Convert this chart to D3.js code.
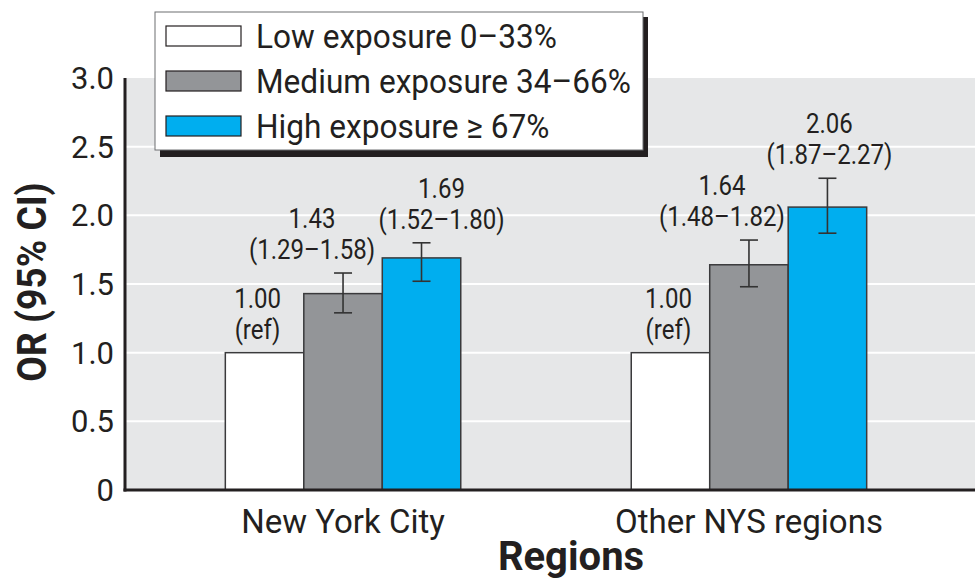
<!DOCTYPE html>
<html>
<head>
<meta charset="utf-8">
<script src="https://cdn.jsdelivr.net/npm/d3@7"></script>
<style>
  body { margin: 0; background: #fff; }
  svg { display: block; font-family: "Roboto", "Liberation Sans", sans-serif; }
</style>
</head>
<body>
<div id="chart"></div>
<script>
// data
const regions = ["New York City", "Other NYS regions"];
const exposures = ["Low exposure 0\u201333%", "Medium exposure 34\u201366%", "High exposure \u2265 67%"];
const orValues = [[1.00, 1.43, 1.69], [1.00, 1.64, 2.06]];
const ciLow  = [[null, 1.29, 1.52], [null, 1.48, 1.87]];
const ciHigh = [[null, 1.58, 1.80], [null, 1.82, 2.27]];
const labelTop = [["1.00", "1.43", "1.69"], ["1.00", "1.64", "2.06"]];
const labelBottom = [["(ref)", "(1.29\u20131.58)", "(1.52\u20131.80)"], ["(ref)", "(1.48\u20131.82)", "(1.87\u20132.27)"]];
const yTicks = [0, 0.5, 1.0, 1.5, 2.0, 2.5, 3.0];
const colors = ["#ffffff", "#939598", "#00aeef"];

// layout: horizontal nudges of the value labels, as in the original
const labelDx = [[-7, -31, 20], [-2, -27, 2]];

const width = 975, height = 584;
const margin = {left: 125, right: 0, top: 78, bottom: 94};
const textColor = "#231f20";

const svg = d3.select("#chart").append("svg")
  .attr("width", width).attr("height", height);

const y = d3.scaleLinear().domain([0, 3]).range([height - margin.bottom, margin.top]);
const x0 = d3.scaleBand().domain(regions).range([121, 971]).paddingInner(0.42).paddingOuter(0.257);
const x1 = d3.scaleBand().domain(d3.range(exposures.length)).range([0, x0.bandwidth()]);

// plot background
svg.append("rect")
  .attr("x", margin.left).attr("y", y(3))
  .attr("width", width - margin.left).attr("height", y(0) - y(3))
  .attr("fill", "#e6e7e8");

// gridlines
svg.append("g").selectAll("line")
  .data(yTicks.filter(t => t > 0 && t < 3))
  .join("line")
    .attr("x1", margin.left).attr("x2", width)
    .attr("y1", d => y(d)).attr("y2", d => y(d))
    .attr("stroke", "#fff").attr("stroke-width", 2);

// bars
const groups = svg.append("g").selectAll("g")
  .data(regions)
  .join("g")
    .attr("transform", d => `translate(${x0(d)},0)`);

groups.each(function(region, ri) {
  const g = d3.select(this);
  const rows = exposures.map((e, i) => ({
    i, v: orValues[ri][i], lo: ciLow[ri][i], hi: ciHigh[ri][i],
    t1: labelTop[ri][i], t2: labelBottom[ri][i], dx: labelDx[ri][i]
  }));

  g.selectAll("rect")
    .data(rows)
    .join("rect")
      .attr("x", d => x1(d.i))
      .attr("y", d => y(d.v))
      .attr("width", x1.bandwidth())
      .attr("height", d => y(0) - y(d.v))
      .attr("fill", d => colors[d.i])
      .attr("stroke", "#3a3a3c")
      .attr("stroke-width", 1.5);

  // error bars
  const eb = g.selectAll("g.eb")
    .data(rows.filter(d => d.lo != null))
    .join("g").attr("class", "eb")
      .attr("transform", d => `translate(${x1(d.i) + x1.bandwidth() / 2},0)`)
      .attr("stroke", "#333").attr("stroke-width", 1.6);
  eb.append("line").attr("y1", d => y(d.lo)).attr("y2", d => y(d.hi));
  eb.append("line").attr("x1", -9).attr("x2", 9).attr("y1", d => y(d.lo)).attr("y2", d => y(d.lo));
  eb.append("line").attr("x1", -9).attr("x2", 9).attr("y1", d => y(d.hi)).attr("y2", d => y(d.hi));

  // value labels (narrowed to mimic the condensed face)
  const lab = g.selectAll("text.val")
    .data(rows)
    .join("text").attr("class", "val")
      .attr("text-anchor", "middle")
      .attr("fill", textColor)
      .attr("font-size", 27)
      .attr("transform", d => `translate(${x1(d.i) + x1.bandwidth() / 2 + d.dx},${y(d.hi != null ? d.hi : d.v) - 14}) scale(0.89,1)`);
  lab.append("tspan").attr("x", 0).attr("y", -31).text(d => d.t1);
  lab.append("tspan").attr("x", 0).attr("y", 0).text(d => d.t2);
});

// axes lines
svg.append("line")
  .attr("x1", margin.left).attr("x2", margin.left)
  .attr("y1", y(3)).attr("y2", y(0) + 1.5)
  .attr("stroke", "#231f20").attr("stroke-width", 3);
svg.append("line")
  .attr("x1", margin.left - 1.5).attr("x2", width)
  .attr("y1", y(0)).attr("y2", y(0))
  .attr("stroke", "#231f20").attr("stroke-width", 3);

// y tick labels
svg.append("g").selectAll("text")
  .data(yTicks)
  .join("text")
    .attr("x", 114).attr("y", d => y(d))
    .attr("dy", "0.36em")
    .attr("text-anchor", "end")
    .attr("fill", textColor)
    .attr("font-size", 31)
    .text(d => d === 0 ? "0" : d.toFixed(1));

// category labels
svg.append("g").selectAll("text")
  .data(regions)
  .join("text")
    .attr("x", d => x0(d) + x0.bandwidth() / 2)
    .attr("y", 533)
    .attr("text-anchor", "middle")
    .attr("fill", textColor)
    .attr("font-size", 33)
    .text(d => d);

// axis titles
svg.append("text")
  .attr("x", 571).attr("y", 570)
  .attr("text-anchor", "middle")
  .attr("fill", textColor)
  .attr("font-size", 40).attr("font-weight", "bold")
  .text("Regions");

svg.append("text")
  .attr("transform", "translate(46,282) rotate(-90) scale(0.93,1)")
  .attr("text-anchor", "middle")
  .attr("fill", textColor)
  .attr("font-size", 40).attr("font-weight", "bold")
  .text("OR (95% CI)");

// legend
const legend = svg.append("g");
legend.append("rect")
  .attr("x", 160).attr("y", 17).attr("width", 488).attr("height", 140)
  .attr("fill", "#231f20");
legend.append("rect")
  .attr("x", 155).attr("y", 12).attr("width", 488).attr("height", 138)
  .attr("fill", "#fff").attr("stroke", "#6d6e71").attr("stroke-width", 1);

const items = legend.selectAll("g.item")
  .data(exposures)
  .join("g").attr("class", "item")
    .attr("transform", (d, i) => `translate(166,${26 + i * 45})`);
items.append("rect")
  .attr("width", 75).attr("height", 20)
  .attr("fill", (d, i) => colors[i])
  .attr("stroke", "#231f20").attr("stroke-width", 1.2);
items.append("text")
  .attr("transform", "translate(90,22) scale(0.93,1)")
  .attr("fill", textColor)
  .attr("font-size", 34)
  .text(d => d);
</script>
</body>
</html>
